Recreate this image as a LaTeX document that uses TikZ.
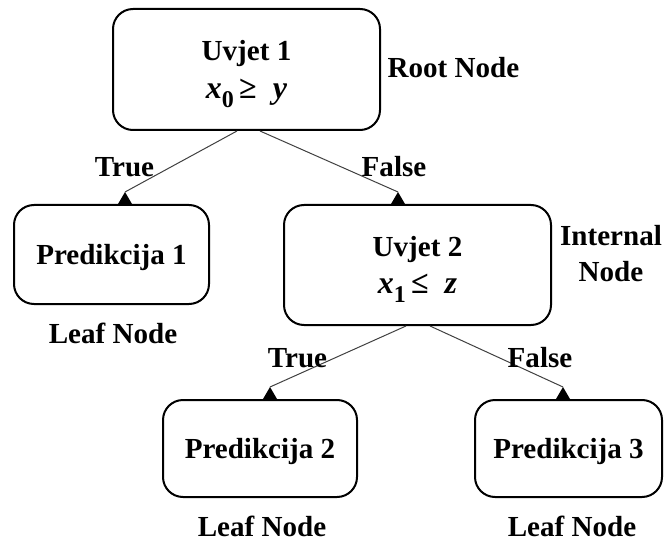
\documentclass[tikz,border=0pt]{standalone}
\usepackage{fontspec}
\setmainfont{Liberation Serif}
\usetikzlibrary{calc}

\newcommand{\tipmark}[1]{\fill (#1) -- ++(-7, 12) -- ++(14, 0) -- cycle;}
\newcommand{\lowidx}[1]{\raisebox{-0.28em}{\fontsize{18}{18}\selectfont #1}}

\begin{document}
\begin{tikzpicture}[x=0.75pt, y=-0.75pt,
  every node/.style={font=\fontsize{21.8}{28}\selectfont\bfseries},
  box/.style={draw, line width=1.5pt, rounded corners=15pt, align=center, text depth=0pt},
  edge/.style={draw=black!75, line width=0.75pt},
  lbl/.style={align=center, inner sep=1pt, font=\fontsize{21.8}{27}\selectfont\bfseries}]

\useasboundingbox (0, 0) rectangle (666, 541);

\node[box, minimum width=200.25pt, minimum height=90.75pt] (root) at (246.5, 69.5) {Uvjet 1\\{\fontsize{24}{28}\selectfont\textit{x}\lowidx{0}\,≥\ \ \textit{y}}};
\node[box, minimum width=146.25pt, minimum height=74.25pt] (pred1) at (111.5, 254.5) {Predikcija 1};
\node[box, minimum width=200.25pt, minimum height=90pt] (cond2) at (417.5, 265) {Uvjet 2\\{\fontsize{24}{28}\selectfont\textit{x}\lowidx{1}\,≤\ \ \textit{z}}};
\node[box, minimum width=145.5pt, minimum height=72.75pt] (pred2) at (260, 448.5) {Predikcija 2};
\node[box, minimum width=140.25pt, minimum height=72.75pt] (pred3) at (568.5, 448.5) {Predikcija 3};

\node[lbl, anchor=west] (rootlbl) at (386, 68) {Root Node};
\node[lbl] (intlbl) at (611, 254) {Internal\\Node};
\node[lbl] (leaf1) at (113, 333) {Leaf Node};
\node[lbl] (leaf2) at (262, 526) {Leaf Node};
\node[lbl] (leaf3) at (572, 526) {Leaf Node};

\coordinate (a1) at ($(pred1.north)+(13.5, -12)$);
\coordinate (a2) at ($(cond2.north)+(-19.5, -12)$);
\coordinate (a3) at ($(pred2.north)+(10, -12)$);
\coordinate (a4) at ($(pred3.north)+(-5.5, -12)$);

\draw[edge] ($(root.south)+(-9.5, 0)$) -- (a1);
\draw[edge] ($(root.south)+(13.5, 0)$) -- (a2);
\draw[edge] ($(cond2.south)+(-11.5, 0)$) -- (a3);
\draw[edge] ($(cond2.south)+(12.5, 0)$) -- (a4);

\tipmark{a1}
\tipmark{a2}
\tipmark{a3}
\tipmark{a4}

\node (t1) at (124.5, 167) {True};
\node (f1) at (394, 167) {False};
\node (t2) at (297.5, 358) {True};
\node (f2) at (540, 358) {False};

\end{tikzpicture}
\end{document}
